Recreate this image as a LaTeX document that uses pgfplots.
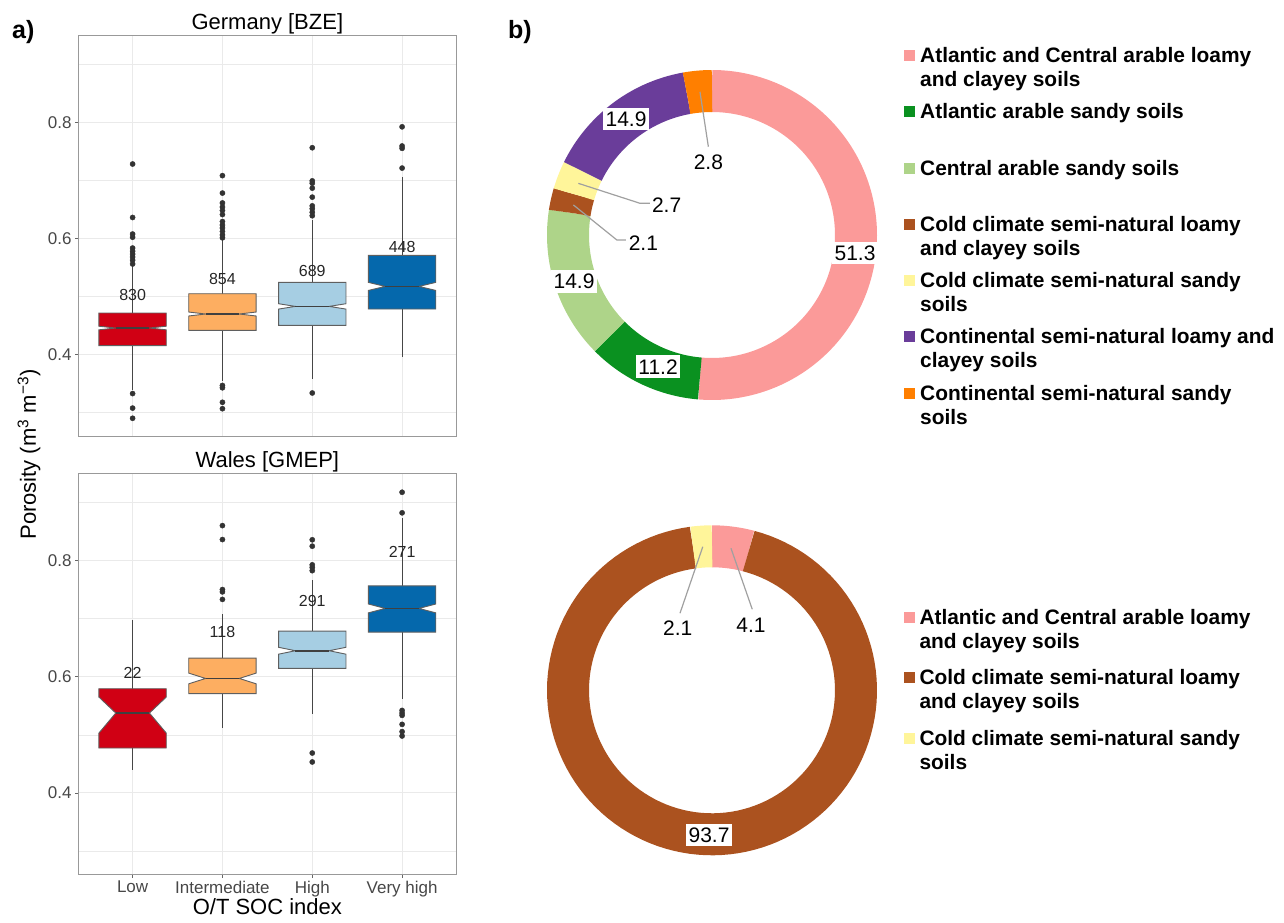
\documentclass[border=0pt]{standalone}
\usepackage{pgfplots}
\pgfplotsset{compat=1.18}
\usepackage{fontspec}
\setmainfont{Liberation Sans}

\definecolor{cLow}{RGB}{208,0,20}
\definecolor{cInt}{RGB}{253,174,97}
\definecolor{cHigh}{RGB}{166,206,227}
\definecolor{cVHigh}{RGB}{5,104,172}
\definecolor{boxedge}{RGB}{95,95,95}
\definecolor{whisk}{RGB}{70,70,70}
\definecolor{pPink}{RGB}{251,154,153}
\definecolor{pGreen}{RGB}{10,145,32}
\definecolor{pLGreen}{RGB}{174,212,137}
\definecolor{pBrown}{RGB}{171,82,31}
\definecolor{pYellow}{RGB}{255,245,154}
\definecolor{pPurple}{RGB}{106,61,154}
\definecolor{pOrange}{RGB}{255,127,0}
\definecolor{gridc}{RGB}{234,234,234}
\definecolor{leader}{RGB}{160,160,160}

\newcommand\fs[2]{\fontsize{#1}{#2}\selectfont}

% notched box: x, q1, notch low, median, notch high, q3, lower whisker, upper whisker, colour
\newcommand{\nbox}[9]{%
  \pgfmathsetmacro\xl{#1-0.375}%
  \pgfmathsetmacro\xr{#1+0.375}%
  \pgfmathsetmacro\xnl{#1-0.1875}%
  \pgfmathsetmacro\xnr{#1+0.1875}%
  \edef\doplot{%
    \noexpand\addplot[draw=whisk, line width=0.9pt] coordinates {(#1,#6) (#1,#8)};
    \noexpand\addplot[draw=whisk, line width=0.9pt] coordinates {(#1,#2) (#1,#7)};
    \noexpand\addplot[fill=#9, draw=boxedge, line width=0.9pt] coordinates {(\xl,#2) (\xr,#2) (\xr,#3) (\xnr,#4) (\xr,#5) (\xr,#6) (\xl,#6) (\xl,#5) (\xnl,#4) (\xl,#3)} -- cycle;
    \noexpand\addplot[draw=black!75, line width=1.8pt] coordinates {(\xnl,#4) (\xnr,#4)};
  }%
  \doplot
}

% donut segment: colour, percentage, total
\gdef\cum{0}
\newcommand\seg[3]{%
  \pgfmathsetmacro\angB{90-(\cum/#3)*360}%
  \pgfmathsetmacro\newcum{\cum+#2}%
  \xdef\cum{\newcum}%
  \pgfmathsetmacro\angA{90-(\cum/#3)*360}%
  \edef\doseg{\noexpand\addplot[line width=42pt, color=#1, domain=\angA:\angB, samples=120] ({0.8727*cos(x)},{0.8727*sin(x)});}%
  \doseg}

\newcommand\lgA[1]{\parbox[t]{362pt}{\rule{0pt}{16pt}#1}}
\newcommand\lgB[2]{\parbox[t]{362pt}{\rule{0pt}{16pt}#1\newline #2}}

\tikzset{
  olab/.style={fill=white, inner xsep=2.5pt, inner ysep=4pt, font=\fs{21}{25}},
  clab/.style={font=\fs{16}{19}, text=black!85},
}

\pgfplotsset{
  boxax/.style={
    scale only axis, width=377.3pt, height=401pt,
    xmin=0.4, xmax=4.6, ymin=0.26, ymax=0.95,
    xtick={1,2,3,4}, ytick={0.4,0.6,0.8}, minor ytick={0.3,0.5,0.7,0.9},
    xmajorgrids, ymajorgrids, yminorgrids,
    major grid style={draw=gridc, line width=1.1pt},
    minor grid style={draw=gridc, line width=0.6pt},
    axis line style={draw=black!40, line width=0.8pt},
    tick align=outside, tick pos=left,
    major tick length=3.7pt, minor tick length=0pt,
    tick style={draw=black!60, line width=0.8pt},
    /pgf/number format/assume math mode=true,
    yticklabel style={font=\fs{17}{20}, text=black!72, inner sep=0pt, xshift=-3.3pt, /pgf/number format/fixed, /pgf/number format/precision=1},
    xticklabel style={font=\fs{17}{20}, text=black!72, inner sep=0pt, yshift=-3pt},
    title style={font=\fs{22}{26}, at={(0.5,1)}, anchor=base, inner sep=0pt},
    xlabel style={font=\fs{22}{26}, at={(axis description cs:0.5,0)}, anchor=base, yshift=-39.7pt, inner sep=0pt},
  },
  donut/.style={
    scale only axis, width=330pt, height=330pt,
    xmin=-1, xmax=1, ymin=-1, ymax=1, hide axis, clip=false,
    legend image code/.code={\fill[##1, draw=none] (0pt,1.5pt) rectangle (11pt,12.5pt);},
    legend cell align=left,
    legend style={draw=none, fill=none, inner sep=0pt, column sep=5pt,
      font=\fs{20.9}{24}\bfseries, nodes={inner sep=0pt, text depth=}, cells={anchor=base west}, anchor=north west},
  },
}

\begin{document}
\begin{tikzpicture}[x=1pt,y=1pt]

% ---------------- Germany [BZE]
\begin{axis}[boxax, at={(78.7pt,486pt)}, anchor=south west, title={Germany [BZE]},
  xticklabels={}, xtick style={draw=none}]
\nbox{1}{0.4154}{0.4427}{0.4458}{0.4489}{0.4716}{0.340}{0.553}{cLow}
\nbox{2}{0.4418}{0.4665}{0.4699}{0.4733}{0.5048}{0.354}{0.599}{cInt}
\nbox{3}{0.4504}{0.4784}{0.4830}{0.4876}{0.5243}{0.358}{0.632}{cHigh}
\nbox{4}{0.4785}{0.5105}{0.5174}{0.5243}{0.5707}{0.3953}{0.705}{cVHigh}
\addplot[only marks, mark=*, mark size=2.6pt, color=black!80] coordinates {
 (1,0.728) (1,0.636) (1,0.6075) (1,0.602) (1,0.5834) (1,0.578) (1,0.573) (1,0.568) (1,0.5625) (1,0.556)
 (1,0.333) (1,0.308) (1,0.2905)
 (2,0.708) (2,0.678) (2,0.661) (2,0.654) (2,0.648) (2,0.641) (2,0.629) (2,0.623) (2,0.618) (2,0.612) (2,0.606) (2,0.601)
 (2,0.347) (2,0.343) (2,0.318) (2,0.307)
 (3,0.756) (3,0.699) (3,0.695) (3,0.6865) (3,0.671) (3,0.656) (3,0.651) (3,0.645) (3,0.639)
 (3,0.334)
 (4,0.792) (4,0.759) (4,0.755) (4,0.721)
};
\node[clab] at (axis cs:1,0.503) {830};
\node[clab] at (axis cs:2,0.530) {854};
\node[clab] at (axis cs:3,0.544) {689};
\node[clab] at (axis cs:4,0.585) {448};
\end{axis}

% ---------------- Wales [GMEP]
\begin{axis}[boxax, at={(78.7pt,47.7pt)}, anchor=south west, title={Wales [GMEP]},
  xticklabels={Low,Intermediate,High,Very high}, xlabel={O/T SOC index}]
\nbox{1}{0.4773}{0.503}{0.5375}{0.565}{0.5793}{0.440}{0.697}{cLow}
\nbox{2}{0.571}{0.5878}{0.597}{0.6062}{0.632}{0.511}{0.708}{cInt}
\nbox{3}{0.6143}{0.6388}{0.6447}{0.6506}{0.6785}{0.535}{0.767}{cHigh}
\nbox{4}{0.6768}{0.7099}{0.7175}{0.7251}{0.7564}{0.5622}{0.8727}{cVHigh}
\addplot[only marks, mark=*, mark size=2.6pt, color=black!80] coordinates {
 (2,0.860) (2,0.836) (2,0.750) (2,0.746) (2,0.733)
 (3,0.8356) (3,0.8246) (3,0.7925) (3,0.788) (3,0.7825) (3,0.4687) (3,0.4533)
 (4,0.9174) (4,0.882) (4,0.542) (4,0.5375) (4,0.5335) (4,0.518) (4,0.5055) (4,0.498)
};
\node[clab] at (axis cs:1,0.607) {22};
\node[clab] at (axis cs:2,0.677) {118};
\node[clab] at (axis cs:3,0.731) {291};
\node[clab] at (axis cs:4,0.814) {271};
\end{axis}

% ---------------- Germany donut
\gdef\cum{0}
\begin{axis}[donut, at={(547pt,522pt)}, anchor=south west,
  legend style={at={(1.0818,1.0721)}, row sep={56.3pt,between origins}}]
\seg{pPink}{51.3}{99.9}
\addlegendentry{\lgB{Atlantic and Central arable loamy}{and clayey soils}}
\seg{pGreen}{11.2}{99.9}
\addlegendentry{\lgA{Atlantic arable sandy soils}}
\seg{pLGreen}{14.9}{99.9}
\addlegendentry{\lgA{Central arable sandy soils}}
\seg{pBrown}{2.1}{99.9}
\addlegendentry{\lgB{Cold climate semi-natural loamy}{and clayey soils}}
\seg{pYellow}{2.7}{99.9}
\addlegendentry{\lgB{Cold climate semi-natural sandy}{soils}}
\seg{pPurple}{14.9}{99.9}
\addlegendentry{\lgB{Continental semi-natural loamy and}{clayey soils}}
\seg{pOrange}{2.8}{99.9}
\addlegendentry{\lgB{Continental semi-natural sandy}{soils}}
\addplot[leader, line width=1.2pt, forget plot] coordinates {(-0.073,0.868) (-0.022,0.535)};
\addplot[leader, line width=1.2pt, forget plot] coordinates {(-0.81,0.313) (-0.436,0.192) (-0.376,0.192)};
\addplot[leader, line width=1.2pt, forget plot] coordinates {(-0.84,0.182) (-0.577,-0.03) (-0.516,-0.03)};
\node[olab] at (axis cs:0.867,-0.109) {51.3};
\node[olab] at (axis cs:-0.327,-0.798) {11.2};
\node[olab] at (axis cs:-0.836,-0.283) {14.9};
\node[olab] at (axis cs:-0.521,0.703) {14.9};
\node[olab] at (axis cs:-0.416,-0.05) {2.1};
\node[olab] at (axis cs:-0.275,0.182) {2.7};
\node[olab] at (axis cs:-0.022,0.439) {2.8};
\end{axis}

% ---------------- Wales donut
\gdef\cum{0}
\begin{axis}[donut, at={(547pt,66.7pt)}, anchor=south west,
  legend style={at={(1.0797,0.7497)}, row sep={60.8pt,between origins}}]
\seg{pPink}{4.1}{99.9}
\addlegendentry{\lgB{Atlantic and Central arable loamy}{and clayey soils}}
\seg{pBrown}{93.7}{99.9}
\addlegendentry{\lgB{Cold climate semi-natural loamy}{and clayey soils}}
\seg{pYellow}{2.1}{99.9}
\addlegendentry{\lgB{Cold climate semi-natural sandy}{soils}}
\addplot[leader, line width=1.2pt, forget plot] coordinates {(-0.056,0.870) (-0.194,0.467)};
\addplot[leader, line width=1.2pt, forget plot] coordinates {(0.115,0.861) (0.244,0.491)};
\node[olab] at (axis cs:-0.018,-0.877) {93.7};
\node[olab] at (axis cs:-0.208,0.376) {2.1};
\node[olab] at (axis cs:0.236,0.396) {4.1};
\end{axis}

\node[rotate=90, font=\fs{22}{26}] at (29pt,467.5pt) {Porosity (m\textsuperscript{3} m\textsuperscript{−3})};
\node[font=\fs{25}{30}\bfseries, anchor=west, inner sep=0pt] at (12pt,890.3pt) {a)};
\node[font=\fs{25}{30}\bfseries, anchor=west, inner sep=0pt] at (508pt,890.3pt) {b)};

\pgfresetboundingbox
\path[use as bounding box] (0pt,0pt) rectangle (1284pt,922pt);
\end{tikzpicture}
\end{document}
